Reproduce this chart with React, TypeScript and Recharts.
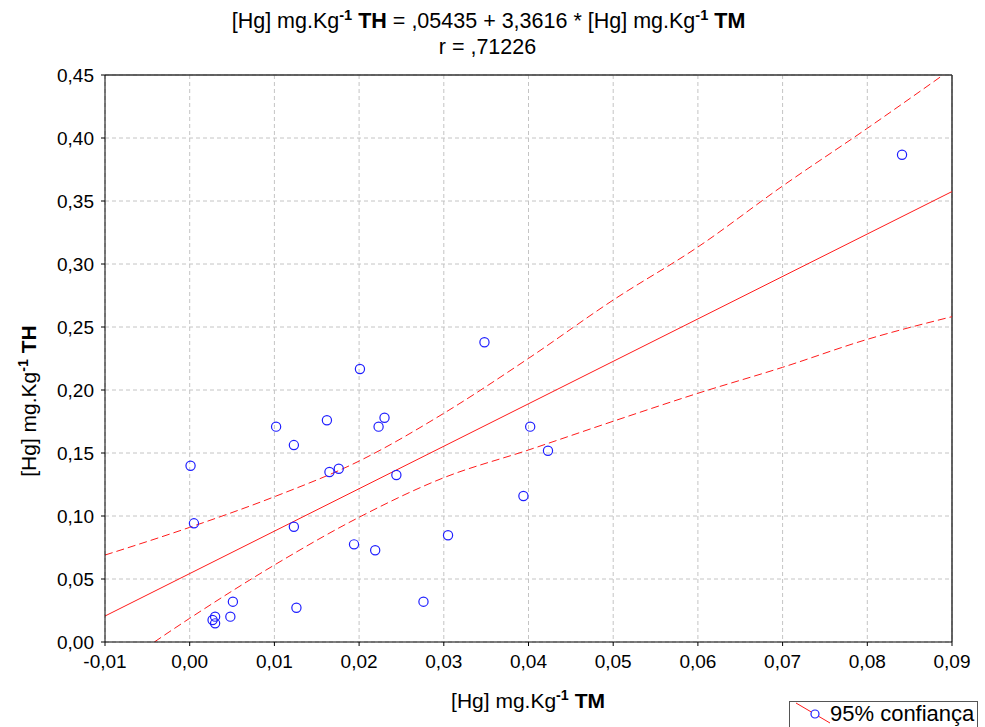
import React from "react";
import {
  ComposedChart,
  Scatter,
  Line,
  XAxis,
  YAxis,
  CartesianGrid,
  ReferenceLine,
} from "recharts";

// Observed points: [Hg] mg.Kg-1 TM (x) vs [Hg] mg.Kg-1 TH (y)
const pointX = [
  0.0001, 0.0005, 0.0027, 0.003, 0.003, 0.0048, 0.0051, 0.0102, 0.0123, 0.0123,
  0.0126, 0.0162, 0.0165, 0.0176, 0.0194, 0.0201, 0.0219, 0.0223, 0.023, 0.0244,
  0.0276, 0.0305, 0.0348, 0.0394, 0.0402, 0.0423, 0.0841,
];
const pointY = [
  0.1399, 0.0942, 0.0175, 0.0148, 0.0201, 0.0201, 0.032, 0.1709, 0.1563, 0.0915,
  0.0272, 0.176, 0.1349, 0.1375, 0.0775, 0.2167, 0.0728, 0.1709, 0.178, 0.1325,
  0.032, 0.0847, 0.2379, 0.1159, 0.1709, 0.1518, 0.3867,
];

// Regression line end points
const fitX = [-0.01, 0.09];
const fitY = [0.0206, 0.3575];

// 95% confidence band
const bandX = [-0.01, 0.0, 0.01, 0.02, 0.03, 0.04, 0.05, 0.06, 0.07, 0.08, 0.09];
const upperY = [0.069, 0.091, 0.1153, 0.1436, 0.1815, 0.2251, 0.2714, 0.3135, 0.3619, 0.4077, 0.455];
const lowerY = [-0.027, 0.0188, 0.0611, 0.099, 0.1304, 0.1524, 0.1752, 0.1974, 0.218, 0.2402, 0.2582];

const xTicks = [-0.01, 0, 0.01, 0.02, 0.03, 0.04, 0.05, 0.06, 0.07, 0.08, 0.09];
const yTicks = [0, 0.05, 0.1, 0.15, 0.2, 0.25, 0.3, 0.35, 0.4, 0.45];

const points = pointX.map((x, i) => ({ x, y: pointY[i] }));
const fit = fitX.map((x, i) => ({ x, y: fitY[i] }));
const upper = bandX.map((x, i) => ({ x, y: upperY[i] }));
const lower = bandX.map((x, i) => ({ x, y: lowerY[i] }));

const FONT = "'Liberation Sans', Arial, sans-serif";
const fmt = (v: number) => v.toFixed(2).replace(".", ",");

const Circle = (props: any) => (
  <circle cx={props.cx} cy={props.cy} r={4.6} fill="none" stroke="#1f1fff" strokeWidth={1.2} />
);

const RED = "#ff1a1a";
const SUP = { fontWeight: "bold" as const, fontSize: "0.68em" };

export default function App() {
  return (
    <div
      style={{
        position: "absolute",
        left: 0,
        top: 0,
        width: 985,
        height: 727,
        background: "#fff",
        fontFamily: FONT,
        overflow: "hidden",
      }}
    >
      <ComposedChart
        width={985}
        height={727}
        margin={{ top: 75, right: 33, bottom: 55, left: 45 }}
      >
        <CartesianGrid stroke="#c4c4c4" strokeDasharray="4 3" />
        <XAxis
          type="number"
          dataKey="x"
          domain={[-0.01, 0.09]}
          ticks={xTicks}
          allowDataOverflow
          tickFormatter={fmt}
          height={30}
          tickSize={4}
          tickMargin={9}
          stroke="#000"
          tick={{ fill: "#000", fontSize: 19, fontFamily: FONT }}
        />
        <YAxis
          type="number"
          dataKey="y"
          domain={[0, 0.45]}
          ticks={yTicks}
          allowDataOverflow
          tickFormatter={fmt}
          width={60}
          tickSize={4}
          tickMargin={7}
          stroke="#000"
          tick={{ fill: "#000", fontSize: 19, fontFamily: FONT }}
        />
        <ReferenceLine y={0.45} stroke="#333" strokeWidth={1.5} />
        <ReferenceLine x={0.09} stroke="#333" strokeWidth={1.5} />
        <Line
          data={upper}
          dataKey="y"
          type="monotone"
          stroke={RED}
          strokeWidth={1}
          strokeDasharray="8 4"
          dot={false}
          activeDot={false}
          isAnimationActive={false}
        />
        <Line
          data={lower}
          dataKey="y"
          type="monotone"
          stroke={RED}
          strokeWidth={1}
          strokeDasharray="8 4"
          dot={false}
          activeDot={false}
          isAnimationActive={false}
        />
        <Line
          data={fit}
          dataKey="y"
          type="linear"
          stroke={RED}
          strokeWidth={1}
          dot={false}
          activeDot={false}
          isAnimationActive={false}
        />
        <Scatter data={points} dataKey="y" shape={Circle} isAnimationActive={false} />
      </ComposedChart>

      {/* Title */}
      <div
        style={{
          position: "absolute",
          left: -4,
          width: 985,
          top: 2,
          textAlign: "center",
          fontSize: 21.5,
          lineHeight: "26px",
          color: "#000",
        }}
      >
        <div>
          [Hg] mg.Kg<sup style={SUP}>-1</sup> <b>TH</b> = ,05435 + 3,3616 * [Hg] mg.Kg
          <sup style={SUP}>-1</sup> <b>TM</b>
        </div>
        <div style={{ marginTop: 0, marginLeft: -2 }}>r = ,71226</div>
      </div>

      {/* X axis label */}
      <div
        style={{
          position: "absolute",
          left: 0,
          width: 1056,
          top: 687,
          textAlign: "center",
          fontSize: 21,
          color: "#000",
        }}
      >
        [Hg] mg.Kg<sup style={SUP}>-1</sup> <b>TM</b>
      </div>

      {/* Y axis label */}
      <div
        style={{
          position: "absolute",
          left: 28,
          top: 401,
          transform: "translate(-50%, -50%) rotate(-90deg)",
          whiteSpace: "nowrap",
          fontSize: 21,
          color: "#000",
        }}
      >
        [Hg] mg.Kg<sup style={SUP}>-1</sup> <b>TH</b>
      </div>

      {/* Legend */}
      <div
        style={{
          position: "absolute",
          left: 789,
          top: 701,
          width: 189,
          height: 40,
          border: "1px solid #555",
          background: "#fff",
          boxSizing: "border-box",
        }}
      >
        <svg width={40} height={26} style={{ position: "absolute", left: 2, top: 0 }}>
          <line x1={4} y1={1} x2={38} y2={21} stroke={RED} strokeWidth={1} />
          <circle cx={23} cy={12} r={4} fill="#fff" stroke="#1f1fff" strokeWidth={1.2} />
        </svg>
        <span
          style={{
            position: "absolute",
            left: 40,
            top: -1,
            fontSize: 22,
            color: "#000",
            whiteSpace: "nowrap",
          }}
        >
          95% confiança
        </span>
      </div>
    </div>
  );
}
